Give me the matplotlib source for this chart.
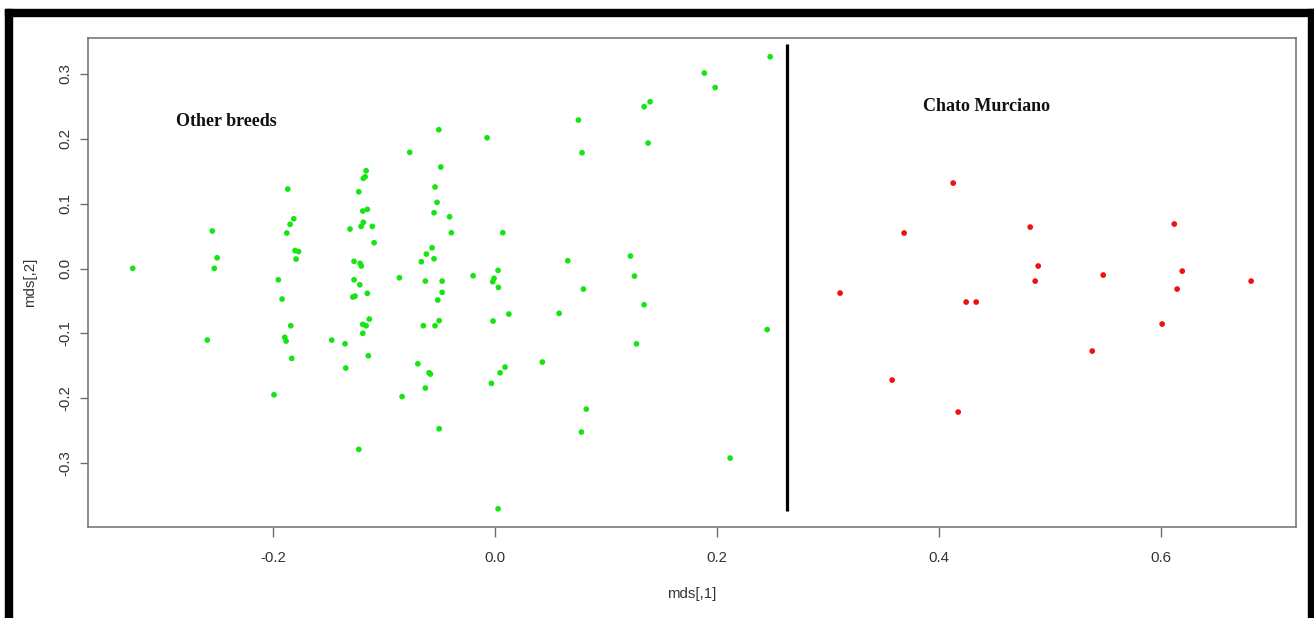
import matplotlib
matplotlib.use("Agg")
import matplotlib.pyplot as plt
from matplotlib.patches import Rectangle

# MDS coordinates (dimension 1, dimension 2)
other_x = [
    -0.3267, -0.2550, -0.2507, -0.2532, -0.2595, -0.1870, -0.1816, -0.1849, -0.1879, -0.1804,
    -0.1773, -0.1795, -0.1955, -0.1921, -0.1843, -0.1897, -0.1885, -0.1834, -0.1994, -0.1164,
    -0.1173, -0.1189, -0.1230, -0.1153, -0.1194, -0.1189, -0.1209, -0.1108, -0.1309, -0.1092,
    -0.1273, -0.1218, -0.1207, -0.1273, -0.1221, -0.1153, -0.1264, -0.1284, -0.1135, -0.1194,
    -0.1164, -0.1194, -0.1474, -0.1354, -0.1144, -0.1347, -0.1230, -0.0509, -0.0074, -0.0771,
    -0.0491, -0.0543, -0.0525, -0.0552, -0.0412, -0.0396, 0.0068, -0.0570, -0.0621, -0.0552,
    -0.0666, -0.0200, 0.0025, -0.0011, -0.0023, 0.0028, -0.0864, -0.0630, -0.0479, -0.0479,
    -0.0518, 0.0122, -0.0648, -0.0543, -0.0506, -0.0020, -0.0698, -0.0597, -0.0585, -0.0630,
    -0.0840, 0.0088, 0.0043, -0.0035, -0.0506, 0.0025, 0.2477, 0.1884, 0.1981, 0.1395,
    0.1341, 0.0749, 0.1377, 0.0782, 0.1218, 0.0653, 0.1254, 0.0794, 0.1341, 0.0575,
    0.2450, 0.1272, 0.0424, 0.0820, 0.0776, 0.2116,
]
other_y = [
    0.0003, 0.0578, 0.0166, 0.0003, -0.1102, 0.1225, 0.0767, 0.0681, 0.0547, 0.0277,
    0.0262, 0.0146, -0.0173, -0.0470, -0.0881, -0.1060, -0.1117, -0.1384, -0.1945, 0.1507,
    0.1414, 0.1390, 0.1183, 0.0912, 0.0886, 0.0712, 0.0650, 0.0650, 0.0609, 0.0398,
    0.0111, 0.0080, 0.0039, -0.0173, -0.0250, -0.0382, -0.0424, -0.0439, -0.0778, -0.0860,
    -0.0881, -0.0998, -0.1102, -0.1159, -0.1344, -0.1533, -0.2786, 0.2139, 0.2015, 0.1790,
    0.1564, 0.1256, 0.1020, 0.0860, 0.0798, 0.0552, 0.0552, 0.0320, 0.0223, 0.0151,
    0.0105, -0.0111, -0.0028, -0.0151, -0.0203, -0.0290, -0.0142, -0.0193, -0.0193, -0.0367,
    -0.0485, -0.0701, -0.0881, -0.0881, -0.0804, -0.0809, -0.1467, -0.1606, -0.1626, -0.1841,
    -0.1972, -0.1518, -0.1606, -0.1769, -0.2468, -0.3701, 0.3263, 0.3012, 0.2789, 0.2570,
    0.2493, 0.2288, 0.1934, 0.1784, 0.0193, 0.0120, -0.0116, -0.0316, -0.0558, -0.0690,
    -0.0940, -0.1160, -0.1441, -0.2165, -0.2519, -0.2920,
]

chato_x = [0.3107, 0.3684, 0.3576, 0.4126, 0.4171, 0.4243, 0.4333, 0.4820, 0.4865,
           0.4892, 0.5478, 0.5379, 0.6009, 0.6118, 0.6144, 0.6190, 0.6811]
chato_y = [-0.0378, 0.0547, -0.1718, 0.1317, -0.2211, -0.0516, -0.0516, 0.0639, -0.0193,
           0.0039, -0.0100, -0.1271, -0.0855, 0.0686, -0.0316, -0.0039, -0.0193]

x_ticks = [-0.2, 0.0, 0.2, 0.4, 0.6]
y_ticks = [-0.3, -0.2, -0.1, 0.0, 0.1, 0.2, 0.3]
x_tick_labels = ["-0.2", "0.0", "0.2", "0.4", "0.6"]
y_tick_labels = ["-0.3", "-0.2", "-0.1", "0.0", "0.1", "0.2", "0.3"]

divider_x = 0.2627
divider_y = (-0.3737, 0.3459)

group_labels = ["Other breeds", "Chato Murciano"]
group_label_pos = [(-0.2426, 0.2273), (0.4430, 0.2504)]

W, H = 1314, 618
fig = plt.figure(figsize=(W / 100, H / 100), dpi=100)
fig.patch.set_facecolor("white")

ax = fig.add_axes([88 / W, 1 - 526.7 / H, (1296 - 88) / W, (526.7 - 38) / H])

ax.scatter(other_x, other_y, s=17, color="#14e614", edgecolors="none", zorder=3)
ax.scatter(chato_x, chato_y, s=17, color="#ee1111", edgecolors="none", zorder=3)
ax.plot([divider_x, divider_x], divider_y, color="black", lw=2.3, solid_capstyle="butt", zorder=4)

for txt, (tx, ty) in zip(group_labels, group_label_pos):
    ax.text(tx, ty, txt, ha="center", va="center", fontsize=13, fontweight="bold",
            family="Liberation Serif", color="#111111")

ax.set_xlim(-0.367, 0.7215)
ax.set_ylim(-0.3977, 0.3552)

ax.set_xticks(x_ticks)
ax.set_xticklabels(x_tick_labels)
ax.set_yticks(y_ticks)
ax.set_yticklabels(y_tick_labels, rotation=90, va="center")

spine_col = "#6e6e6e"
for sp in ax.spines.values():
    sp.set_color(spine_col)
    sp.set_linewidth(1.1)

ax.tick_params(axis="both", colors=spine_col, length=7.5, width=1.0,
               labelcolor="#333333", labelsize=10.8)
ax.tick_params(axis="x", pad=10)
ax.tick_params(axis="y", pad=5, length=6)
for lab in ax.get_xticklabels() + ax.get_yticklabels():
    lab.set_family("Liberation Sans")

ax.set_xlabel("mds[,1]", fontsize=10.8, family="Liberation Sans", color="#333333", va="center")
ax.set_ylabel("mds[,2]", fontsize=10.8, family="Liberation Sans", color="#333333",
              va="center", ha="center")
ax.xaxis.set_label_coords(0.5, -(594 - 526.7) / (526.7 - 38))
ax.yaxis.set_label_coords(-(88 - 30) / (1296 - 88), 0.5)

# Heavy frame around the figure (left, top, right)
frame_kw = dict(transform=fig.transFigure, color="black", zorder=10)
fig.patches.append(Rectangle((5 / W, 0), 7 / W, (H - 9) / H, **frame_kw))
fig.patches.append(Rectangle((5 / W, (H - 16) / H), (W - 5) / W, 7 / H, **frame_kw))
fig.patches.append(Rectangle((1307.5 / W, 0), 6.5 / W, (H - 9) / H, **frame_kw))

fig.savefig("out.png", dpi=100, facecolor="white")
